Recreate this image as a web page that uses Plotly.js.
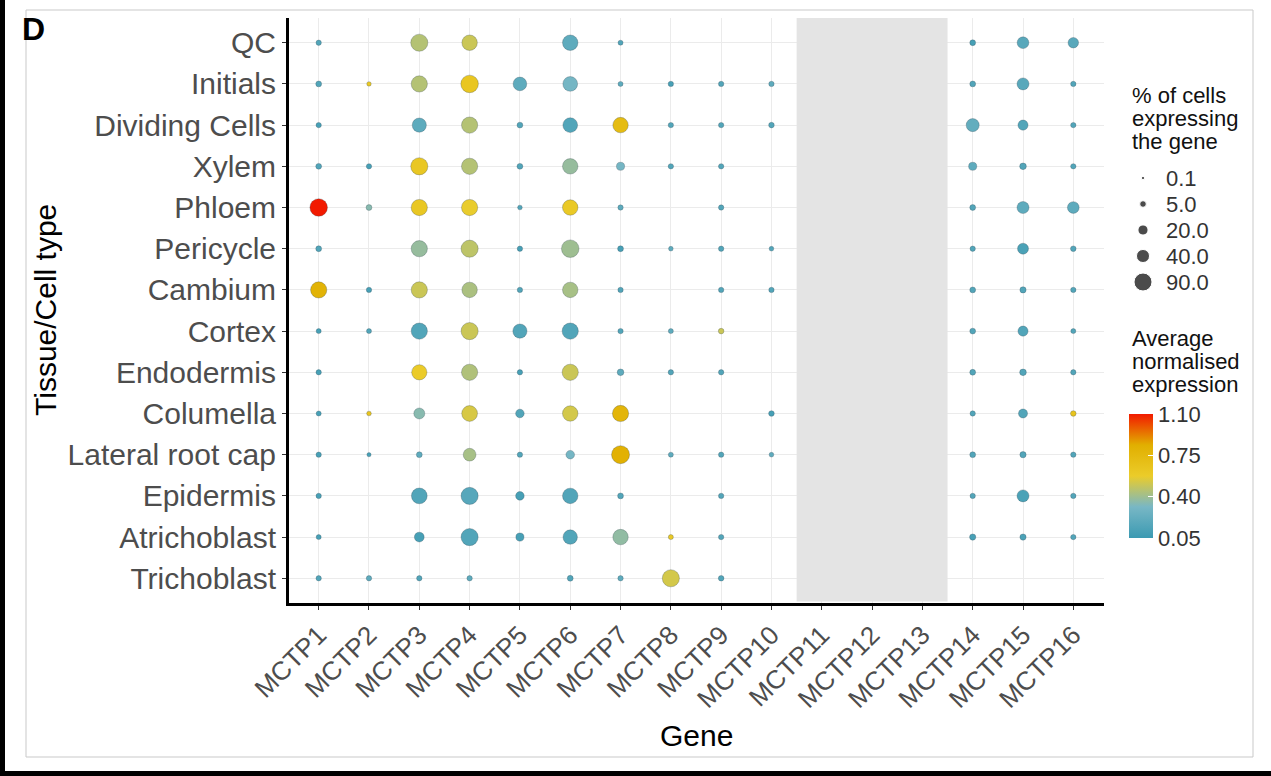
<!DOCTYPE html>
<html>
<head>
<meta charset="utf-8">
<script src="https://cdn.plot.ly/plotly-3.0.1.min.js"></script>
<style>html,body{margin:0;padding:0;background:#fff;} #chart{width:1271px;height:776px;}</style>
</head>
<body>
<div id="chart"></div>
<script>
// ---------- data ----------
const genes = ['MCTP1','MCTP2','MCTP3','MCTP4','MCTP5','MCTP6','MCTP7','MCTP8','MCTP9','MCTP10','MCTP11','MCTP12','MCTP13','MCTP14','MCTP15','MCTP16'];
const cellTypes = ['QC','Initials','Dividing Cells','Xylem','Phloem','Pericycle','Cambium','Cortex','Endodermis','Columella','Lateral root cap','Epidermis','Atrichoblast','Trichoblast'];
const notProfiledGenes = ['MCTP11','MCTP12','MCTP13'];

// % of cells expressing the gene (rows follow cellTypes); null = no dot
const pct_MCTP1  = [2, 3, 2, 3, 85, 3, 70, 1.5, 2, 1.5, 2, 2, 1.5, 2];
const pct_MCTP2  = [null, 0.8, null, 2, 3, null, 2, 1.5, null, 1, 0.5, null, null, 2];
const pct_MCTP3  = [80, 70, 50, 80, 70, 70, 70, 70, 60, 25, 3, 65, 18, 2];
const pct_MCTP4  = [62, 85, 70, 70, 70, 80, 62, 80, 70, 65, 38, 80, 80, 2];
const pct_MCTP5  = [null, 45, 3, 3, 1, 2, 2, 50, 2, 12, 2, 12, 10, null];
const pct_MCTP6  = [62, 55, 55, 62, 62, 85, 62, 70, 70, 62, 12, 62, 52, 3];
const pct_MCTP7  = [1.5, 1.5, 62, 10, 2, 3, 2, 2, 5, 70, 90, 3, 62, 2];
const pct_MCTP8  = [null, 2, 2, 2, null, 1, null, 1.5, 2, null, 1.5, null, 1.5, 80];
const pct_MCTP9  = [null, 2, 2, 2, 2, 2, 2, 2.5, 2, null, 2, 2, 2, 2.5];
const pct_MCTP10 = [null, 2, 2.5, null, null, 1, 2, null, null, 2.5, 1, null, null, null];
const pct_MCTP11 = [null, null, null, null, null, null, null, null, null, null, null, null, null, null];
const pct_MCTP12 = [null, null, null, null, null, null, null, null, null, null, null, null, null, null];
const pct_MCTP13 = [null, null, null, null, null, null, null, null, null, null, null, null, null, null];
const pct_MCTP14 = [3, 3, 40, 10, 3, 2, 3, 3, 3, 2, 3, 2, 4, null];
const pct_MCTP15 = [30, 32, 20, 5, 32, 25, 4, 20, 5, 14, 4, 32, 4, null];
const pct_MCTP16 = [22, 2, 2, 2, 30, 2.5, 2, 1.5, 2, 2.5, 2, 2, 2, null];

// average normalised expression
const avg_MCTP1  = [0.15, 0.15, 0.10, 0.15, 1.10, 0.15, 0.80, 0.10, 0.10, 0.10, 0.10, 0.10, 0.10, 0.15];
const avg_MCTP2  = [null, 0.60, null, 0.10, 0.35, null, 0.10, 0.15, null, 0.65, 0.10, null, null, 0.20];
const avg_MCTP3  = [0.45, 0.45, 0.20, 0.62, 0.62, 0.38, 0.50, 0.15, 0.58, 0.35, 0.20, 0.15, 0.10, 0.15];
const avg_MCTP4  = [0.50, 0.63, 0.45, 0.45, 0.57, 0.47, 0.43, 0.50, 0.44, 0.53, 0.42, 0.17, 0.15, 0.20];
const avg_MCTP5  = [null, 0.20, 0.15, 0.15, 0.15, 0.10, 0.15, 0.15, 0.10, 0.15, 0.15, 0.10, 0.10, null];
const avg_MCTP6  = [0.20, 0.30, 0.15, 0.38, 0.60, 0.40, 0.42, 0.15, 0.50, 0.52, 0.30, 0.15, 0.15, 0.15];
const avg_MCTP7  = [0.15, 0.20, 0.72, 0.30, 0.20, 0.10, 0.15, 0.15, 0.20, 0.78, 0.82, 0.15, 0.37, 0.20];
const avg_MCTP8  = [null, 0.10, 0.15, 0.15, null, 0.20, null, 0.20, 0.15, null, 0.20, null, 0.60, 0.52];
const avg_MCTP9  = [null, 0.15, 0.15, 0.15, 0.15, 0.15, 0.15, 0.50, 0.15, null, 0.15, 0.15, 0.15, 0.15];
const avg_MCTP10 = [null, 0.20, 0.15, null, null, 0.15, 0.15, null, null, 0.10, 0.20, null, null, null];
const avg_MCTP11 = [null, null, null, null, null, null, null, null, null, null, null, null, null, null];
const avg_MCTP12 = [null, null, null, null, null, null, null, null, null, null, null, null, null, null];
const avg_MCTP13 = [null, null, null, null, null, null, null, null, null, null, null, null, null, null];
const avg_MCTP14 = [0.10, 0.15, 0.22, 0.20, 0.15, 0.15, 0.15, 0.15, 0.15, 0.15, 0.15, 0.15, 0.10, null];
const avg_MCTP15 = [0.18, 0.18, 0.15, 0.15, 0.20, 0.12, 0.15, 0.15, 0.15, 0.15, 0.15, 0.12, 0.12, null];
const avg_MCTP16 = [0.18, 0.15, 0.15, 0.15, 0.20, 0.15, 0.15, 0.15, 0.15, 0.65, 0.15, 0.15, 0.15, null];

const sizeLegendLevels = [0.1, 5.0, 20.0, 40.0, 90.0];
const sizeLegendLabels = ['0.1', '5.0', '20.0', '40.0', '90.0'];
const colorTickVals = [0.05, 0.40, 0.75, 1.10];
const colorTickText = ['0.05', '0.40', '0.75', '1.10'];

const pctTable = [pct_MCTP1,pct_MCTP2,pct_MCTP3,pct_MCTP4,pct_MCTP5,pct_MCTP6,pct_MCTP7,pct_MCTP8,pct_MCTP9,pct_MCTP10,pct_MCTP11,pct_MCTP12,pct_MCTP13,pct_MCTP14,pct_MCTP15,pct_MCTP16];
const avgTable = [avg_MCTP1,avg_MCTP2,avg_MCTP3,avg_MCTP4,avg_MCTP5,avg_MCTP6,avg_MCTP7,avg_MCTP8,avg_MCTP9,avg_MCTP10,avg_MCTP11,avg_MCTP12,avg_MCTP13,avg_MCTP14,avg_MCTP15,avg_MCTP16];

// ---------- geometry helpers ----------
const W = 1271, H = 776;
const px = x => x / W;
const py = y => 1 - y / H;
const PCT_MIN = 0.1, PCT_MAX = 90, D_MIN = 3.2, D_MAX = 18;
const diam = p => D_MIN + (D_MAX - D_MIN) * Math.sqrt(Math.max(0, (p - PCT_MIN) / (PCT_MAX - PCT_MIN)));

const zissou = [[0, '#3B9AB2'], [0.25, '#78B7C5'], [0.5, '#EBCC2A'], [0.75, '#E1AF00'], [1, '#F21A00']];

const xs = [], ys = [], ss = [], cs = [], hov = [];
genes.forEach((g, gi) => {
  cellTypes.forEach((c, ci) => {
    const p = pctTable[gi][ci];
    const a = avgTable[gi][ci];
    if (p === null || a === null) return;
    xs.push(gi); ys.push(ci); ss.push(diam(p)); cs.push(a);
    hov.push(g + ' / ' + c + '<br>% cells: ' + p + '<br>avg: ' + a);
  });
});

const FONT = 'Liberation Sans, Arial, Helvetica, sans-serif';

const dots = {
  type: 'scatter', mode: 'markers', x: xs, y: ys, xaxis: 'x', yaxis: 'y',
  text: hov, hoverinfo: 'text', showlegend: false,
  marker: {
    size: ss, sizemode: 'diameter', color: cs, cmin: 0.05, cmax: 1.10,
    colorscale: zissou, opacity: 1,
    line: {width: 0.5, color: 'rgba(50,70,80,0.55)'},
    colorbar: {
      x: px(1129), xanchor: 'left', y: py(476), yanchor: 'middle',
      len: 124, lenmode: 'pixels', thickness: 24, thicknessmode: 'pixels',
      xpad: 0, ypad: 0, outlinewidth: 0, borderwidth: 0,
      tickvals: colorTickVals, ticktext: colorTickText,
      ticks: 'inside', ticklen: 5, tickcolor: '#ffffff', tickwidth: 1,
      tickfont: {family: FONT, size: 22, color: '#333333'},
      title: {text: ''}
    }
  }
};

const sizeLegend = {
  type: 'scatter', mode: 'markers', xaxis: 'x2', yaxis: 'y2',
  x: sizeLegendLevels.map(() => 0.5), y: sizeLegendLevels.map((v, i) => i),
  marker: {size: sizeLegendLevels.map(diam), sizemode: 'diameter', color: '#000000'},
  hoverinfo: 'skip', showlegend: false
};

const yTickFont = {family: FONT, size: 30, color: '#4d4d4d'};
const xTickFont = {family: FONT, size: 26, color: '#4d4d4d'};

const bandX0 = genes.indexOf(notProfiledGenes[0]) - 0.5;
const bandX1 = genes.indexOf(notProfiledGenes[notProfiledGenes.length - 1]) + 0.5;

const legendTitleFont = {family: FONT, size: 22, color: '#111111'};
const titleLine = (t, y) => ({text: t, xref: 'paper', yref: 'paper', x: px(1130), y: py(y),
  xanchor: 'left', yanchor: 'middle', showarrow: false, font: legendTitleFont});

const layout = {
  width: W, height: H,
  margin: {l: 0, r: 0, t: 0, b: 0},
  paper_bgcolor: '#ffffff', plot_bgcolor: '#ffffff',
  showlegend: false,
  xaxis: {
    domain: [px(288.5), px(1103.5)], range: [-0.6, 15.6], anchor: 'y',
    tickmode: 'array', tickvals: genes.map((g, i) => i), ticktext: genes,
    tickangle: -45, tickfont: xTickFont,
    showgrid: true, gridcolor: '#ebebeb', gridwidth: 1, zeroline: false,
    showline: true, linecolor: '#000000', linewidth: 2.5,
    ticks: 'outside', ticklen: 4, tickcolor: '#333333', tickwidth: 1,
    fixedrange: true
  },
  yaxis: {
    domain: [py(603), py(18)], range: [13.6, -0.6], anchor: 'x',
    tickmode: 'array', tickvals: cellTypes.map((c, i) => i), ticktext: cellTypes,
    tickfont: yTickFont,
    showgrid: true, gridcolor: '#ebebeb', gridwidth: 1, zeroline: false,
    showline: true, linecolor: '#000000', linewidth: 2.5,
    ticks: 'outside', ticklen: 4, tickcolor: '#333333', tickwidth: 1,
    fixedrange: true
  },
  xaxis2: {domain: [px(1133), px(1153)], range: [0, 1], anchor: 'y2', visible: false, fixedrange: true},
  yaxis2: {
    domain: [py(295), py(165)], range: [4.5, -0.5], anchor: 'x2', side: 'right',
    tickmode: 'array', tickvals: sizeLegendLevels.map((v, i) => i), ticktext: sizeLegendLabels,
    tickfont: {family: FONT, size: 22, color: '#333333'},
    showgrid: false, zeroline: false, showline: false, ticks: '', ticklabelstandoff: 12,
    fixedrange: true
  },
  shapes: [
    // gene columns with no data (drawn above the grid, kept off the axis line)
    {type: 'rect', layer: 'above', xref: 'x', yref: 'paper',
     x0: bandX0, x1: bandX1, y0: py(601.5), y1: py(18),
     fillcolor: '#e4e4e4', line: {width: 0}},
    // panel frame
    {type: 'rect', layer: 'below', xref: 'paper', yref: 'paper',
     x0: px(26), x1: px(1253), y0: py(757), y1: py(10), line: {color: '#c9c9c9', width: 1}},
    {type: 'rect', layer: 'above', xref: 'paper', yref: 'paper',
     x0: px(0), x1: px(5), y0: 0, y1: 1, fillcolor: '#000000', line: {width: 0}},
    {type: 'rect', layer: 'above', xref: 'paper', yref: 'paper',
     x0: 0, x1: 1, y0: 0, y1: py(771), fillcolor: '#000000', line: {width: 0}}
  ],
  annotations: [
    {text: '<b>D</b>', xref: 'paper', yref: 'paper', x: px(20), y: py(29), xanchor: 'left', yanchor: 'middle',
     showarrow: false, font: {family: FONT, size: 32, color: '#000000'}},
    {text: 'Tissue/Cell type', xref: 'paper', yref: 'paper', x: px(45), y: py(310), textangle: -90,
     xanchor: 'center', yanchor: 'middle', showarrow: false, font: {family: FONT, size: 30, color: '#000000'}},
    {text: 'Gene', xref: 'paper', yref: 'paper', x: px(696), y: py(735),
     xanchor: 'center', yanchor: 'middle', showarrow: false, font: {family: FONT, size: 30, color: '#000000'}},
    titleLine('% of cells', 95),
    titleLine('expressing', 118),
    titleLine('the gene', 141),
    titleLine('Average', 338),
    titleLine('normalised', 361),
    titleLine('expression', 384)
  ]
};

Plotly.newPlot('chart', [dots, sizeLegend], layout, {staticPlot: true, displayModeBar: false});
</script>
</body>
</html>
